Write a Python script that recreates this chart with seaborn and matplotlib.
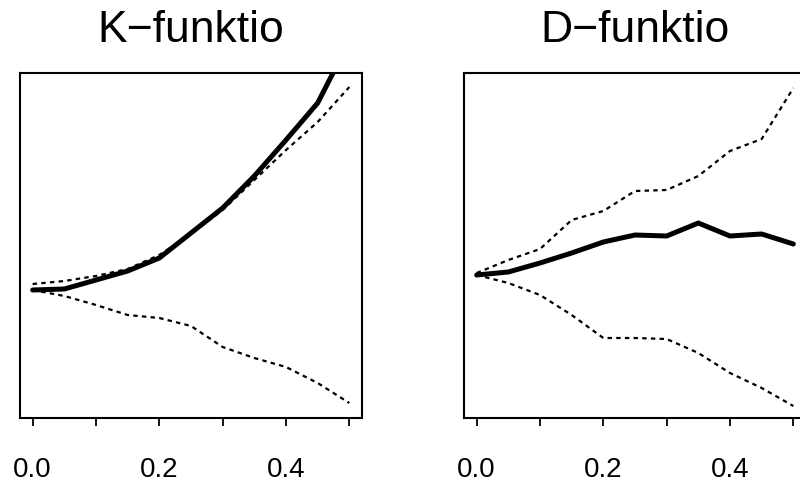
import numpy as np
import pandas as pd
import matplotlib
matplotlib.use("Agg")
import matplotlib.pyplot as plt
import seaborn as sns

# distances r
r = [0.0, 0.05, 0.10, 0.15, 0.20, 0.25, 0.30, 0.35, 0.40, 0.45, 0.50]

K_obs = [0.00, 0.01, 0.10, 0.19, 0.32, 0.57, 0.82, 1.14, 1.50, 1.87, 2.49]
K_hi = [0.06, 0.09, 0.14, 0.21, 0.35, 0.56, 0.80, 1.10, 1.40, 1.68, 2.03]
K_lo = [0.00, -0.06, -0.15, -0.25, -0.28, -0.36, -0.57, -0.68, -0.77, -0.93, -1.13]

# D-function: observed and simulation envelope
D_obs = [0.00, 0.03, 0.12, 0.22, 0.33, 0.40, 0.39, 0.52, 0.39, 0.41, 0.31]
D_hi = [0.02, 0.15, 0.26, 0.55, 0.64, 0.84, 0.85, 0.99, 1.24, 1.36, 1.87]
D_lo = [0.00, -0.08, -0.20, -0.40, -0.63, -0.63, -0.64, -0.78, -0.98, -1.13, -1.31]

titles = ["K\u2212funktio", "D\u2212funktio"]
xticks = [0.0, 0.1, 0.2, 0.3, 0.4, 0.5]
xticklabels = ["0.0", "", "0.2", "", "0.4", ""]

sns.set_style("white")
plt.rcParams['font.family'] = ['Liberation Sans', 'DejaVu Sans']

fig = plt.figure(figsize=(8, 4.9), dpi=100)
ax1 = fig.add_axes([20 / 800, 1 - 418 / 490, 342 / 800, 345 / 490])
ax2 = fig.add_axes([464 / 800, 1 - 418 / 490, 342 / 800, 345 / 490])

panels = [
    (ax1, K_obs, K_hi, K_lo, (-1.28, 2.17), titles[0]),
    (ax2, D_obs, D_hi, D_lo, (-1.43, 2.02), titles[1]),
]

for ax, obs, hi, lo, ylim, title in panels:
    df = pd.DataFrame({"r": r, "obs": obs, "hi": hi, "lo": lo})
    sns.lineplot(data=df, x="r", y="hi", ax=ax, color="black", lw=1.6,
                 dashes=False, linestyle=(0, (2.0, 1.9)))
    sns.lineplot(data=df, x="r", y="lo", ax=ax, color="black", lw=1.6,
                 dashes=False, linestyle=(0, (2.0, 1.9)))
    sns.lineplot(data=df, x="r", y="obs", ax=ax, color="black", lw=3.6,
                 solid_capstyle="round", solid_joinstyle="round")
    ax.set_xlim(-0.02, 0.52)
    ax.set_ylim(*ylim)
    ax.set_xlabel("")
    ax.set_ylabel("")
    ax.set_yticks([])
    ax.set_xticks(xticks)
    ax.set_xticklabels(xticklabels)
    ax.tick_params(axis="x", bottom=True, direction="out", length=6,
                   width=1.3, color="black", labelsize=20, pad=22,
                   labelcolor="black")
    for s in ax.spines.values():
        s.set_visible(True)
        s.set_color("black")
        s.set_linewidth(1.5)
    ax.set_title(title, fontsize=32, pad=22, color="black")

fig.savefig("out.png", dpi=100)
